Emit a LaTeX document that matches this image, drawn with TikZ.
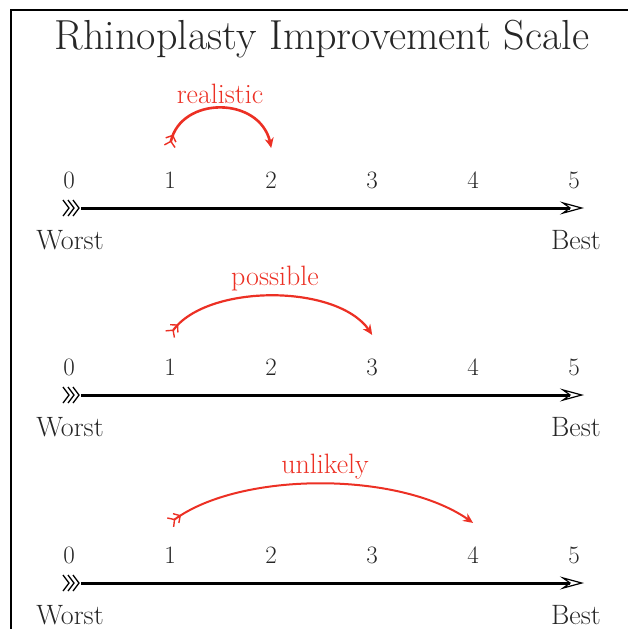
\documentclass[tikz,border=0pt]{standalone}
\usetikzlibrary{arrows.meta,bending,calc}
\definecolor{arcred}{RGB}{236,48,36}
\tikzset{
  numlbl/.style={inner sep=0pt, font=\fontsize{25}{25}\selectfont, text=black!85},
  endlbl/.style={inner sep=0pt, anchor=base, font=\fontsize{28}{28}\selectfont, text=black!85},
  arclbl/.style={inner sep=0pt, font=\fontsize{28}{28}\selectfont, text=arcred},
  axisline/.style={line width=3pt, black, -{Stealth[length=24pt,width=13pt,inset=9pt,open,line width=1.2pt]}},
  fletch/.style={line width=1.3pt, black},
  redarc/.style={arcred, line width=#1, {Straight Barb[reversed,length=5pt,width=11pt,line width=1.4pt] Straight Barb[reversed,length=5pt,width=11pt,line width=1.4pt]}-{Stealth[length=10pt,width=9pt,bend]}},
  frame/.style={line width=1.5pt, black}
}
\begin{document}
\begin{tikzpicture}[x=1pt,y=-1pt]
\useasboundingbox (0,0) rectangle (628,629);
\coordinate (fbl) at (11,629);
\coordinate (ftl) at (11,10);
\coordinate (ftr) at (628,10);
\draw[frame] (fbl) -- (ftl) -- (ftr);
\node[inner sep=0pt, font=\fontsize{42}{42}\selectfont, text=black!85] (title) at (322,39) {Rhinoplasty Improvement Scale};

\foreach \k/\yy in {1/208, 2/395, 3/583} {
  \coordinate (s\k) at (81,\yy);
  \coordinate (e\k) at (584,\yy);
  \draw[axisline] (s\k) -- (e\k);
  \foreach \dx in {0,5,10} {
    \draw[fletch] ($(63+\dx,\yy-8)$) -- ($(69+\dx,\yy)$) -- ($(63+\dx,\yy+8)$);
  }
  \foreach \i in {0,...,5} {
    \node[numlbl] (n\k-\i) at ($(69+101*\i,\yy-28)$) {\i};
  }
  \node[endlbl] (w\k) at ($(70,\yy+41)$) {Worst};
  \node[endlbl] (b\k) at ($(576,\yy+41)$) {Best};
}

\coordinate (a1s) at (170,147);
\coordinate (a1e) at (271,148);
\draw[redarc=2.6pt] (a1s) .. controls (175,94) and (266,94) .. (a1e);
\node[arclbl] (l1) at (220,94) {realistic};

\coordinate (a2s) at (170,335);
\coordinate (a2e) at (372,335);
\draw[redarc=2.2pt] (a2s) .. controls (200,282) and (345,282) .. (a2e);
\node[arclbl] (l2) at (275,279) {possible};

\coordinate (a3s) at (170,523);
\coordinate (a3e) at (473,523);
\draw[redarc=2pt] (a3s) .. controls (235,470) and (405,470) .. (a3e);
\node[arclbl] (l3) at (325,467) {unlikely};
\end{tikzpicture}
\end{document}
